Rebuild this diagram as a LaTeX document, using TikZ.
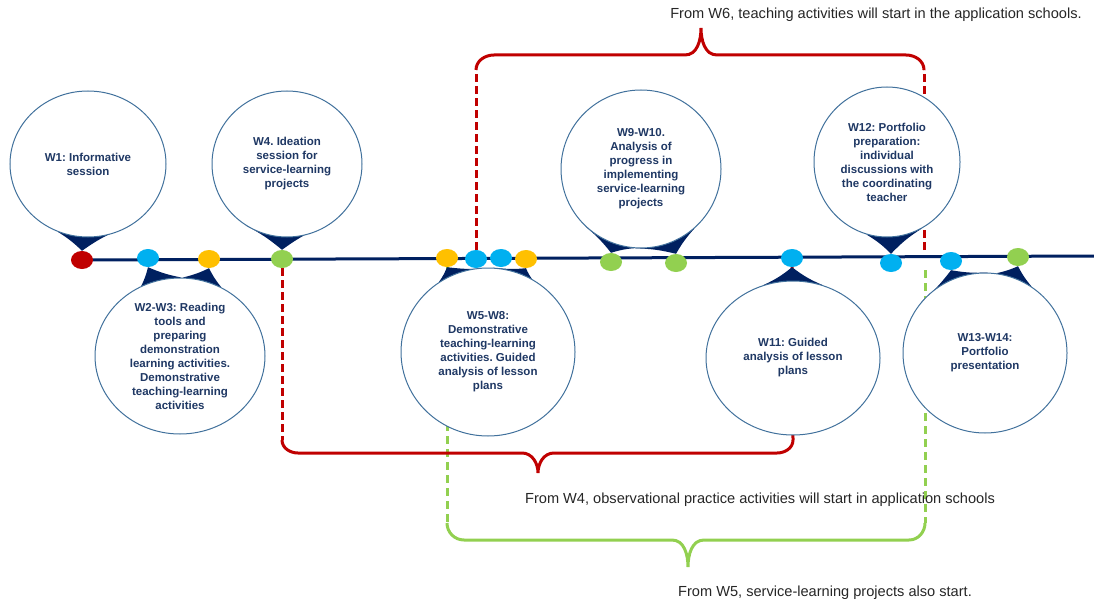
\documentclass[tikz,border=0pt]{standalone}
\usepackage{fontspec}
\setmainfont{Liberation Sans}
\usetikzlibrary{shapes.geometric}

\definecolor{navy}{HTML}{002060}
\definecolor{textnavy}{HTML}{1F3864}
\definecolor{outline}{HTML}{41719C}
\definecolor{cred}{HTML}{C00000}
\definecolor{cblue}{HTML}{00B0F0}
\definecolor{cyellow}{HTML}{FFC000}
\definecolor{cgreen}{HTML}{92D050}

\pgfdeclarelayer{lines}
\pgfdeclarelayer{tails}
\pgfsetlayers{lines,tails,main}

\frenchspacing

\begin{document}
\begin{tikzpicture}[x=1pt, y=1pt,
    dot/.style={ellipse, minimum width=22pt, minimum height=18pt, inner sep=0pt},
    bubble/.style={ellipse, draw=outline, line width=1pt, fill=white, inner sep=0pt, align=center,
        text=textnavy, font={\bfseries\fontsize{11.5}{14}\selectfont}},
    tail/.style={fill=navy},
    note/.style={text=black!85, font={\fontsize{14.6}{17}\selectfont}},
    timeline/.style={draw=navy, line width=3pt},
    reddash/.style={draw=cred, line width=3pt, dash pattern=on 8pt off 4pt},
    greendash/.style={draw=cgreen, line width=3pt, dash pattern=on 8pt off 5pt},
    redbrace/.style={draw=cred, line width=3pt},
    greenbrace/.style={draw=cgreen, line width=3pt}]

    \useasboundingbox (0,0) rectangle (1094,-607);

    % Dots on the timeline
    \node[dot, fill=cred]    at (82, -260)   (r1) {};
    \node[dot, fill=cblue]   at (148, -258)  (b1) {};
    \node[dot, fill=cyellow] at (209, -259)  (y1) {};
    \node[dot, fill=cgreen]  at (282, -259)  (g1) {};
    \node[dot, fill=cyellow] at (447, -258)  (y2) {};
    \node[dot, fill=cblue]   at (476, -259)  (b2) {};
    \node[dot, fill=cblue]   at (501, -258)  (b3) {};
    \node[dot, fill=cyellow] at (526, -259)  (y3) {};
    \node[dot, fill=cgreen]  at (611, -262)  (g2) {};
    \node[dot, fill=cgreen]  at (676, -263)  (g3) {};
    \node[dot, fill=cblue]   at (792, -258)  (b4) {};
    \node[dot, fill=cblue]   at (891, -263)  (b5) {};
    \node[dot, fill=cblue]   at (951, -261)  (b6) {};
    \node[dot, fill=cgreen]  at (1018, -257) (g4) {};

    % Bubbles
    \node[bubble, minimum width=156pt, minimum height=146pt] at (88, -164)  (w1)    {W1: Informative\\session};
    \node[bubble, minimum width=150pt, minimum height=146pt] at (287, -164) (w4)    {W4. Ideation\\session for\\service-learning\\projects};
    \node[bubble, minimum width=170pt, minimum height=156pt] at (180, -356) (w23)   {W2-W3: Reading\\tools and\\preparing\\demonstration\\learning activities.\\Demonstrative\\teaching-learning\\activities};
    \node[bubble, minimum width=174pt, minimum height=168pt] at (488, -352) (w58)   {W5-W8:\\Demonstrative\\teaching-learning\\activities. Guided\\analysis of lesson\\plans};
    \node[bubble, minimum width=160pt, minimum height=158pt] at (641, -169) (w910)  {W9-W10.\\Analysis of\\progress in\\implementing\\service-learning\\projects};
    \node[bubble, minimum width=174pt, minimum height=154pt] at (793, -358) (w11)   {W11: Guided\\analysis of lesson\\plans};
    \node[bubble, minimum width=146pt, minimum height=150pt] at (887, -162) (w12)   {W12: Portfolio\\preparation:\\individual\\discussions with\\the coordinating\\teacher};
    \node[bubble, minimum width=164pt, minimum height=160pt] at (985, -353) (w1314) {W13-W14:\\Portfolio\\presentation};

    % Notes
    \node[note] at (876, -15)  (t6) {From W6, teaching activities will start in the application schools.};
    \node[note] at (760, -500) (t4) {From W4, observational practice activities will start in application schools};
    \node[note] at (825, -593) (t5) {From W5, service-learning projects also start.};

    % Brace ends
    \coordinate (rbl) at (282, -440);
    \coordinate (rbr) at (793, -440);
    \coordinate (gbl) at (447, -523);
    \coordinate (gbr) at (925, -523);
    \coordinate (tbl) at (476, -70);
    \coordinate (tbr) at (924, -70);
    \coordinate (tbrfoot) at (924, -250);
    \coordinate (gbrtop) at (925, -270);
    \coordinate (lineend) at (1094, -256);

    \begin{pgfonlayer}{tails}
        \fill[tail] (w1.-114) to[bend left=6] (r1.north) to[bend left=8] (w1.-55) -- cycle;
        \fill[tail] (w4.-124) to[bend left=6] (g1.north) to[bend left=8] (w4.-53) -- cycle;
        \fill[tail] (w910.-134) to[bend left=6] (g2.north) to[bend left=6] (w910.-95) -- cycle;
        \fill[tail] (w910.-94) to[bend left=6] (g3.north) to[bend left=6] (w910.-48) -- cycle;
        \fill[tail] (w12.-106) to[bend left=7] (b5.north) to[bend left=7] (w12.-62) -- cycle;
        \fill[tail] (w23.119) to[bend right=6] (b1.south) to[bend right=6] (w23.89) -- cycle;
        \fill[tail] (w23.88) to[bend right=6] (y1.south) to[bend right=6] (w23.59) -- cycle;
        \fill[tail] (w58.125) to[bend right=6] (y2.south) to[bend right=6] (w58.85) -- cycle;
        \fill[tail] (w58.84) to[bend right=6] (y3.south) to[bend right=6] (w58.59) -- cycle;
        \fill[tail] (w11.112) to[bend right=7] (b4.south) to[bend right=7] (w11.68) -- cycle;
        \fill[tail] (w1314.141) to[bend right=6] (b6.south) to[bend right=6] (w1314.88) -- cycle;
        \fill[tail] (w1314.82) to[bend right=6] (g4.south) to[bend right=6] (w1314.55) -- cycle;
    \end{pgfonlayer}

    \begin{pgfonlayer}{lines}
        \draw[timeline] (r1.center) -- (lineend);

        \draw[reddash] (g1.south) -- (rbl);
        \draw[reddash] (b4.south) -- (rbr);
        \draw[greendash] (y2.south) -- (gbl);
        \draw[greendash] (gbrtop) -- (gbr);
        \draw[reddash] (b2.north) -- (tbl);
        \draw[reddash] (tbrfoot) -- (tbr);

        \draw[redbrace] (rbl) to[out=-90,in=180] (298,-453) -- (522,-453) to[out=0,in=90] (538,-473)
            to[out=90,in=180] (554,-453) -- (777,-453) to[out=0,in=-90] (rbr);
        \draw[greenbrace] (gbl) to[out=-90,in=180] (464,-540) -- (672,-540) to[out=0,in=90] (688,-567)
            to[out=90,in=180] (704,-540) -- (909,-540) to[out=0,in=-90] (gbr);
        \draw[redbrace] (tbl) to[out=90,in=180] (494,-55) -- (685,-55) to[out=0,in=-90] (701,-28)
            to[out=-90,in=180] (717,-55) -- (906,-55) to[out=0,in=90] (tbr);
    \end{pgfonlayer}

\end{tikzpicture}
\end{document}
